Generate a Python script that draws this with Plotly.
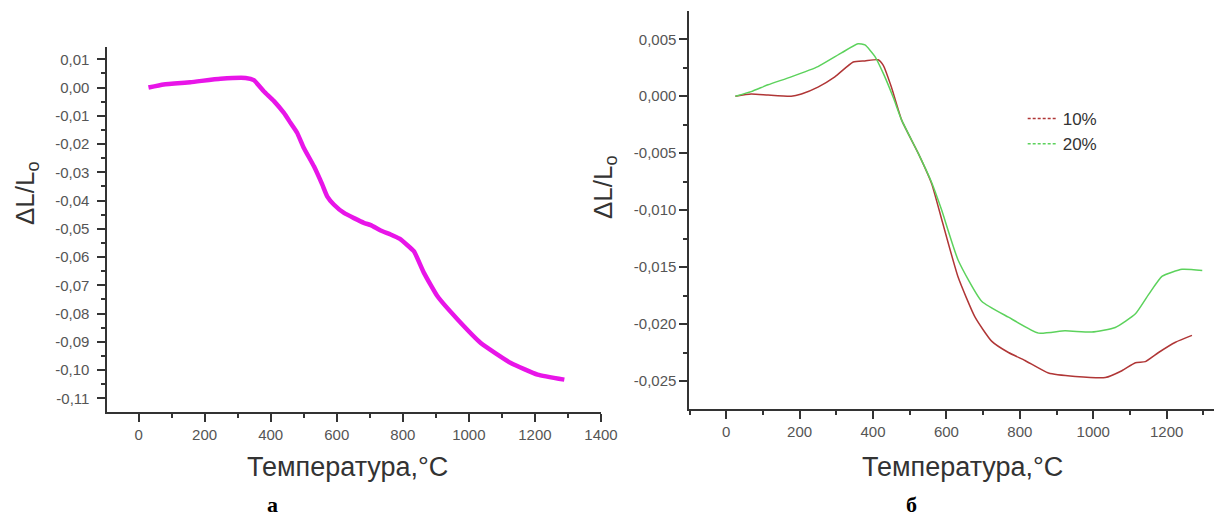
import plotly.graph_objects as go

# ---------- data: panel "а" ----------
temp_a = [30, 76, 157, 248, 324, 349, 379, 410, 440, 460, 480, 500, 531, 556, 571, 591, 622,
          682, 703, 733, 763, 790, 814, 834, 864, 905, 966, 1036, 1127, 1208, 1289]
dl_a = [0.0000, 0.0011, 0.0019, 0.0031, 0.0034, 0.0026, -0.0013, -0.0048, -0.0090, -0.0125,
        -0.0160, -0.0213, -0.0279, -0.0343, -0.0385, -0.0414, -0.0444,
        -0.0479, -0.0487, -0.0506, -0.0520, -0.0535, -0.0558, -0.0580, -0.0656, -0.0739,
        -0.0821, -0.0904, -0.0975, -0.1016, -0.1034]

# ---------- data: panel "б" ----------
temp_10 = [25, 68, 114, 177, 205, 250, 296, 346, 378, 414, 428, 450, 478, 523, 560, 587, 632,
           678, 723, 769, 814, 878, 951, 1033, 1078, 1115, 1142, 1178, 1224, 1269]
dl_10 = [0.0000, 0.0002, 0.0001, 0.0000, 0.0002, 0.0008, 0.0017, 0.0030, 0.0031, 0.0032,
         0.0027, 0.0008, -0.0021, -0.0050, -0.0077, -0.0108, -0.0159, -0.0194, -0.0215,
         -0.0225, -0.0232, -0.0243, -0.0246, -0.0247, -0.0241, -0.0234, -0.0233, -0.0225,
         -0.0216, -0.0210]

temp_20 = [25, 68, 114, 177, 250, 314, 359, 378, 405, 428, 455, 478, 523, 560, 587, 632, 696,
           769, 851, 923, 996, 1060, 1115, 1151, 1188, 1242, 1297]
dl_20 = [0.0000, 0.0004, 0.0010, 0.0017, 0.0026, 0.0038, 0.0046, 0.0045, 0.0035, 0.0020,
         -0.0001, -0.0021, -0.0050, -0.0076, -0.0100, -0.0144, -0.0180, -0.0194, -0.0208,
         -0.0206, -0.0207, -0.0203, -0.0191, -0.0174, -0.0158, -0.0152, -0.0153]

series_names = ["10%", "20%"]

# ---------- tick labels ----------
xticks_a = [0, 200, 400, 600, 800, 1000, 1200, 1400]
xticklabels_a = ["0", "200", "400", "600", "800", "1000", "1200", "1400"]
yticks_a = [0.01, 0.00, -0.01, -0.02, -0.03, -0.04, -0.05, -0.06, -0.07, -0.08, -0.09, -0.10, -0.11]
yticklabels_a = ["0,01", "0,00", "-0,01", "-0,02", "-0,03", "-0,04", "-0,05", "-0,06",
                 "-0,07", "-0,08", "-0,09", "-0,10", "-0,11"]
xticks_b = [0, 200, 400, 600, 800, 1000, 1200]
xticklabels_b = ["0", "200", "400", "600", "800", "1000", "1200"]
yticks_b = [0.005, 0.000, -0.005, -0.010, -0.015, -0.020, -0.025]
yticklabels_b = ["0,005", "0,000", "-0,005", "-0,010", "-0,015", "-0,020", "-0,025"]

x_title = "Температура,°С"
y_title = "ΔL/L<sub>o</sub>"
panel_labels = ["а", "б"]

W, H = 1231, 520
W_SCREEN = 1212  # effective horizontal extent observed in the photographed page
MAGENTA = "#e815e8"
RED = "#b03636"
GREEN = "#5cd25c"
AXC = "#333333"
TICKC = "#555555"

fig = go.Figure()
fig.add_trace(go.Scatter(x=temp_a, y=dl_a, mode="lines",
                         line=dict(color=MAGENTA, width=4.5, shape="spline", smoothing=0.4),
                         showlegend=False, xaxis="x", yaxis="y"))
fig.add_trace(go.Scatter(x=temp_10, y=dl_10, mode="lines",
                         line=dict(color=RED, width=1.5, shape="spline", smoothing=0.5),
                         showlegend=False, xaxis="x2", yaxis="y2"))
fig.add_trace(go.Scatter(x=temp_20, y=dl_20, mode="lines",
                         line=dict(color=GREEN, width=1.5, shape="spline", smoothing=0.5),
                         showlegend=False, xaxis="x2", yaxis="y2"))
# legend entries (dashed samples as in the reference legend)
for name, col in zip(series_names, [RED, GREEN]):
    fig.add_trace(go.Scatter(x=[None], y=[None], mode="lines", name=name,
                             line=dict(color=col, width=1.5, dash="3px,2px"),
                             xaxis="x2", yaxis="y2"))


def px_x(p):
    return min(p / W_SCREEN, 1.0)


def px_y(p):
    return 1 - p / H


common = dict(showline=True, linecolor=AXC, linewidth=1.5, ticks="outside", ticklen=8,
              tickwidth=1.5, tickcolor=AXC, showgrid=False, zeroline=False,
              tickfont=dict(family="Arial", size=15, color=TICKC), tickmode="array")


def minor(dt):
    return dict(tickmode="linear", tick0=0, dtick=dt, ticks="outside", ticklen=4,
                tickcolor=AXC, tickwidth=1.5)


def ann(text, x, y, size, angle=0, family="Arial", color="#333333"):
    return dict(text=text, x=px_x(x), y=px_y(y), xref="paper", yref="paper", showarrow=False,
                xanchor="center", yanchor="middle", textangle=angle,
                font=dict(family=family, size=size, color=color))


fig.update_layout(
    width=W, height=H, margin=dict(l=0, r=0, t=0, b=0),
    paper_bgcolor="white", plot_bgcolor="white",
    xaxis=dict(domain=[px_x(107), px_x(600)], range=[-95, 1400], anchor="y",
               tickvals=xticks_a, ticktext=xticklabels_a, minor=minor(100), **common),
    yaxis=dict(domain=[px_y(412), px_y(47)], range=[-0.11485, 0.01435], anchor="x",
               tickvals=yticks_a, ticktext=yticklabels_a, minor=minor(0.005),
               ticklabelstandoff=5, **common),
    xaxis2=dict(domain=[px_x(688), 1.0], range=[-101, 1329], anchor="y2",
                tickvals=xticks_b, ticktext=xticklabels_b, minor=minor(100), **common),
    yaxis2=dict(domain=[px_y(409), px_y(11)], range=[-0.02746, 0.00748], anchor="x2",
                tickvals=yticks_b, ticktext=yticklabels_b, minor=minor(0.0025), **common),
    legend=dict(x=px_x(1021), y=px_y(101), xanchor="left", yanchor="top",
                bgcolor="rgba(0,0,0,0)", font=dict(family="Arial", size=17, color="#333333"),
                itemwidth=30, tracegroupgap=0),
    annotations=[
        ann(x_title, 347, 467, 27),
        ann(x_title, 961, 467, 27),
        ann(y_title, 26, 193, 26, angle=-90),
        ann(y_title, 603, 187, 26, angle=-90),
        ann("<b>" + panel_labels[0] + "</b>", 272, 504, 22, family="Liberation Serif", color="black"),
        ann("<b>" + panel_labels[1] + "</b>", 910, 504, 22, family="Liberation Serif", color="black"),
    ],
)

fig.write_html(
    "out.html",
    config={"displayModeBar": False},
    post_script="document.body.style.margin='0';document.body.style.overflow='hidden';"
                "document.documentElement.style.overflow='hidden';",
)
